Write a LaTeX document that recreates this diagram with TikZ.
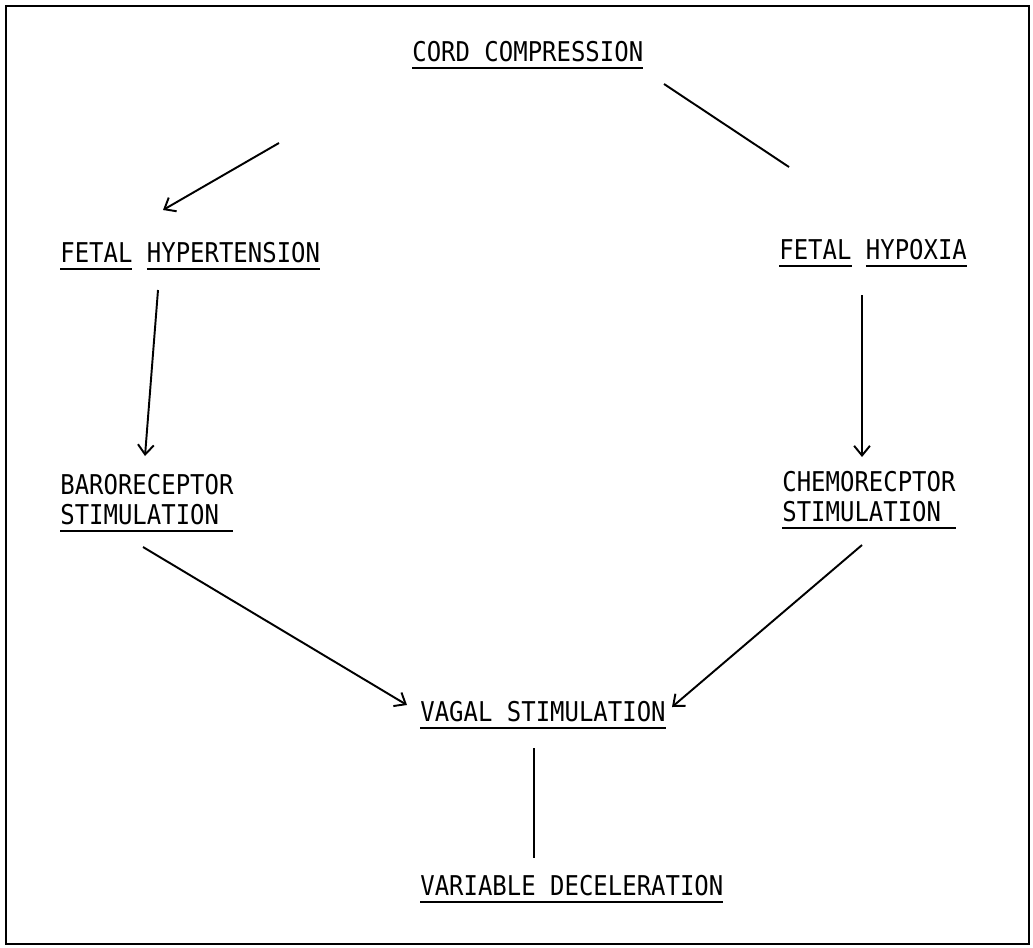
\documentclass[tikz,border=0pt]{standalone}
\usepackage{fontspec}
\newfontfamily\typefont[FakeStretch=0.88]{DejaVu Sans Mono}
\usetikzlibrary{arrows.meta}
% underlined word, typewriter style
\newcommand{\ulword}[1]{\setbox0=\hbox{#1}\leavevmode\rlap{\rule[-4.6pt]{\wd0}{1.3pt}}\box0\relax}
\begin{document}
\begin{tikzpicture}[>={Straight Barb[length=5.5pt,width=9pt]},x=0.02cm,y=-0.02cm,
	txt/.style={anchor=base west,inner sep=0pt,align=left,font=\typefont\fontsize{15.5}{17}\selectfont},
	link/.style={line width=1.1pt}]
			\useasboundingbox (0,0) rectangle (1033,947);
			\draw[line width=1.5pt] (6,6) rectangle (1029,944); % khung
			\node[txt] (cord) at (412,61) {\ulword{CORD COMPRESSION}};
			\node[txt] (hyper) at (60,262) {\ulword{FETAL} \ulword{HYPERTENSION}};
			\node[txt] (hypox) at (779,259) {\ulword{FETAL} \ulword{HYPOXIA}};
			\node[txt] (baro) at (60,524) {BARORECEPTOR\\\ulword{STIMULATION\ }}; % hai dòng: base ở đáy
			\node[txt] (chemo) at (782,521) {CHEMORECPTOR\\\ulword{STIMULATION\ }};
			\node[txt] (vagal) at (420,721) {\ulword{VAGAL STIMULATION}};
			\node[txt] (varia) at (420,895) {\ulword{VARIABLE DECELERATION}};
			\coordinate (cordL) at (279,143);	\coordinate (hyperT) at (163,210);
			\coordinate (cordR) at (664,84);	\coordinate (hypoxT) at (789,167);
			\coordinate (hyperB) at (158,290);	\coordinate (baroT) at (145,456);
			\coordinate (hypoxB) at (862,295);	\coordinate (chemoT) at (862,457);
			\coordinate (baroB) at (143,547);	\coordinate (vagalL) at (407,705);
			\coordinate (chemoB) at (862,545);	\coordinate (vagalR) at (672,707);
			\coordinate (vagalB) at (534,748);	\coordinate (variaT) at (534,858);
			\draw[link,->] (cordL) -- (hyperT);
			\draw[link] (cordR) -- (hypoxT);
			\draw[link,->] (hyperB) -- (baroT);
			\draw[link,->] (hypoxB) -- (chemoT);
			\draw[link,->] (baroB) -- (vagalL);
			\draw[link,->] (chemoB) -- (vagalR);
			\draw[link] (vagalB) -- (variaT);
\end{tikzpicture}
\end{document}
